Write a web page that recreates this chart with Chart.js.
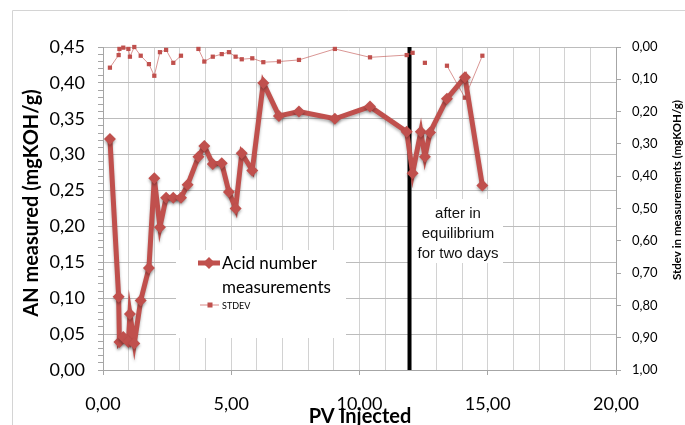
<!DOCTYPE html>
<html>
<head>
<meta charset="utf-8">
<script src="https://cdn.jsdelivr.net/npm/chart.js@4"></script>
<style>
  html, body { margin: 0; padding: 0; background: #fff; }
</style>
</head>
<body>
<canvas id="myChart" width="685" height="425"></canvas>
<script>
// PV injected (x) for every measurement
var pvInjected = [0.27, 0.61, 0.64, 0.79, 0.99, 1.05, 1.22, 1.47, 1.79, 2.00, 2.22, 2.46,
  2.74, 3.04, 3.30, 3.72, 3.95, 4.28, 4.63, 4.91, 5.17, 5.41, 5.82, 6.25, 6.86, 7.64,
  9.04, 10.41, 11.84, 12.07, 12.39, 12.55, 12.75, 13.41, 14.11, 14.79];
// acid number, left axis
var acidNumber = [0.322, 0.102, 0.039, 0.046, 0.039, 0.078, 0.037, 0.097, 0.142, 0.267,
  0.199, 0.240, 0.240, 0.240, 0.258, 0.297, 0.312, 0.287, 0.288, 0.248, 0.225, 0.302,
  0.278, 0.400, 0.354, 0.360, 0.350, 0.367, 0.332, 0.274, 0.332, 0.297, 0.331, 0.378,
  0.408, 0.257];
// stdev, right axis (reversed), null = no value
var stdev = [0.064, 0.025, 0.006, 0.002, 0.006, 0.030, 0.000, 0.027, 0.053, 0.089,
  0.016, 0.009, 0.049, 0.027, null, 0.006, 0.045, 0.030, 0.022, 0.016, 0.030, 0.038,
  0.035, 0.047, 0.045, 0.040, 0.006, 0.032, 0.025, 0.018, null, 0.049, null, 0.058,
  0.157, 0.027];
var equilibriumX = 11.95;
var noteLines = ["after in", "equilibrium", "for two days"];

var red = "#C0504D";
var comma = function (v) { return v.toFixed(2).replace(".", ","); };

var anPoints = pvInjected.map(function (x, i) { return { x: x, y: acidNumber[i] }; });
var sdPoints = pvInjected.map(function (x, i) { return { x: x, y: stdev[i] }; });

var extras = {
  id: "extras",
  beforeDraw: function (chart) {
    var c = chart.ctx;
    c.save();
    c.strokeStyle = "#d4d4d4";
    c.lineWidth = 1;
    c.beginPath();
    c.moveTo(12.5, 425);
    c.lineTo(12.5, 10.5);
    c.lineTo(685, 10.5);
    c.stroke();
    c.restore();
  },
  beforeDatasetsDraw: function (chart) {
    var c = chart.ctx;
    c.save();
    c.fillStyle = "#fff";
    c.fillRect(176, 250, 170, 88);
    c.fillRect(411, 199, 92, 64);
    c.restore();
  },
  beforeDatasetDraw: function (chart, args) {
    chart.ctx.save();
    if (args.index === 0) {
      chart.ctx.shadowColor = "rgba(0,0,0,0.3)";
      chart.ctx.shadowBlur = 3;
      chart.ctx.shadowOffsetY = 2;
    }
  },
  afterDatasetDraw: function (chart) {
    chart.ctx.restore();
  },
  afterDraw: function (chart) {
    var c = chart.ctx;
    c.save();
    // legend
    c.strokeStyle = red;
    c.lineWidth = 5;
    c.beginPath(); c.moveTo(198, 263); c.lineTo(220, 263); c.stroke();
    c.fillStyle = red;
    c.beginPath(); c.moveTo(209, 257); c.lineTo(215, 263); c.lineTo(209, 269); c.lineTo(203, 263); c.closePath(); c.fill();
    c.lineWidth = 1;
    c.strokeStyle = "#d98a88";
    c.beginPath(); c.moveTo(200, 305); c.lineTo(219, 305); c.stroke();
    c.fillRect(207.5, 302.5, 5, 5);
    c.fillStyle = "#000";
    c.textBaseline = "middle";
    c.textAlign = "left";
    c.font = "17px Lato";
    c.fillText("Acid number", 222, 264);
    c.fillText("measurements", 222, 288);
    c.font = "9px Lato";
    c.fillText("STDEV", 222, 306);
    // note
    c.textAlign = "center";
    c.font = "15px 'Liberation Sans'";
    c.fillStyle = "#111";
    noteLines.forEach(function (t, i) { c.fillText(t, 458, 214 + i * 20); });
    // axis titles
    c.fillStyle = "#000";
    c.font = "bold 20px Lato";
    c.fillText("PV Injected", 360, 417);
    c.save();
    c.translate(32, 203);
    c.rotate(-Math.PI / 2);
    c.fillText("AN measured (mgKOH/g)", 0, 0);
    c.restore();
    c.save();
    c.translate(677, 190);
    c.rotate(-Math.PI / 2);
    c.font = "bold 11.5px Lato";
    c.fillText("Stdev in measurements (mgKOH/g)", 0, 0);
    c.restore();
    c.restore();
  }
};

var ctx = document.getElementById("myChart");

var myChart = new Chart(ctx, {
  type: "line",
  data: {
    datasets: [
      {
        label: "Acid number measurements",
        data: anPoints,
        yAxisID: "y",
        borderColor: red,
        backgroundColor: red,
        borderWidth: 5,
        pointStyle: "rectRot",
        pointRadius: 6,
        pointBorderWidth: 0,
        clip: 10,
      },
      {
        label: "STDEV",
        data: sdPoints,
        yAxisID: "y2",
        borderColor: "rgba(192, 80, 77, 0.6)",
        backgroundColor: red,
        borderWidth: 1,
        pointStyle: "rect",
        pointRadius: 3,
        pointBorderWidth: 0,
        spanGaps: false,
        clip: 10,
      },
      {
        label: "equilibrium",
        data: [{ x: equilibriumX, y: 0 }, { x: equilibriumX, y: 0.45 }],
        yAxisID: "y",
        borderColor: "#000",
        borderWidth: 4,
        pointRadius: 0,
      },
    ],
  },
  options: {
    responsive: false,
    animation: false,
    layout: { padding: { top: 47, left: 0, right: 0, bottom: 0 } },
    plugins: { legend: { display: false }, tooltip: { enabled: false } },
    scales: {
      x: {
        type: "linear",
        min: 0,
        max: 20,
        afterFit: function (s) { s.height = 55; },
        border: { color: "#a6a6a6" },
        grid: {
          color: "#d2d2d2",
          tickLength: 5,
          tickColor: function (c) { return c.tick && c.tick.value % 5 === 0 ? "#a6a6a6" : "rgba(0,0,0,0)"; },
        },
        ticks: {
          stepSize: 1,
          autoSkip: false,
          maxRotation: 0,
          padding: 18,
          color: "#000",
          font: { family: "Lato", size: 18 },
          callback: function (v) { return v % 5 === 0 ? comma(v) : ""; },
        },
      },
      y: {
        position: "left",
        min: 0,
        max: 0.45,
        afterFit: function (s) { s.width = 103; },
        border: { color: "#a6a6a6" },
        grid: {
          tickLength: 5,
          color: function (c) { return Math.round(c.tick.value * 100) % 5 === 0 ? "#bcbcbc" : "rgba(0,0,0,0)"; },
          tickColor: "#a6a6a6",
        },
        ticks: {
          stepSize: 0.01,
          autoSkip: false,
          padding: 13,
          color: "#000",
          font: { family: "Lato", size: 18 },
          callback: function (v) { return Math.round(v * 100) % 5 === 0 ? comma(v) : ""; },
        },
      },
      y2: {
        position: "right",
        min: 0,
        max: 1,
        reverse: true,
        afterFit: function (s) { s.width = 69; },
        border: { color: "#a6a6a6" },
        grid: { drawOnChartArea: false, tickLength: 5, tickColor: "#a6a6a6" },
        ticks: {
          stepSize: 0.1,
          padding: 11,
          color: "#000",
          font: { family: "Lato", size: 13 },
          callback: function (v) { return comma(v); },
        },
      },
    },
  },
  plugins: [extras],
});
</script>
</body>
</html>
